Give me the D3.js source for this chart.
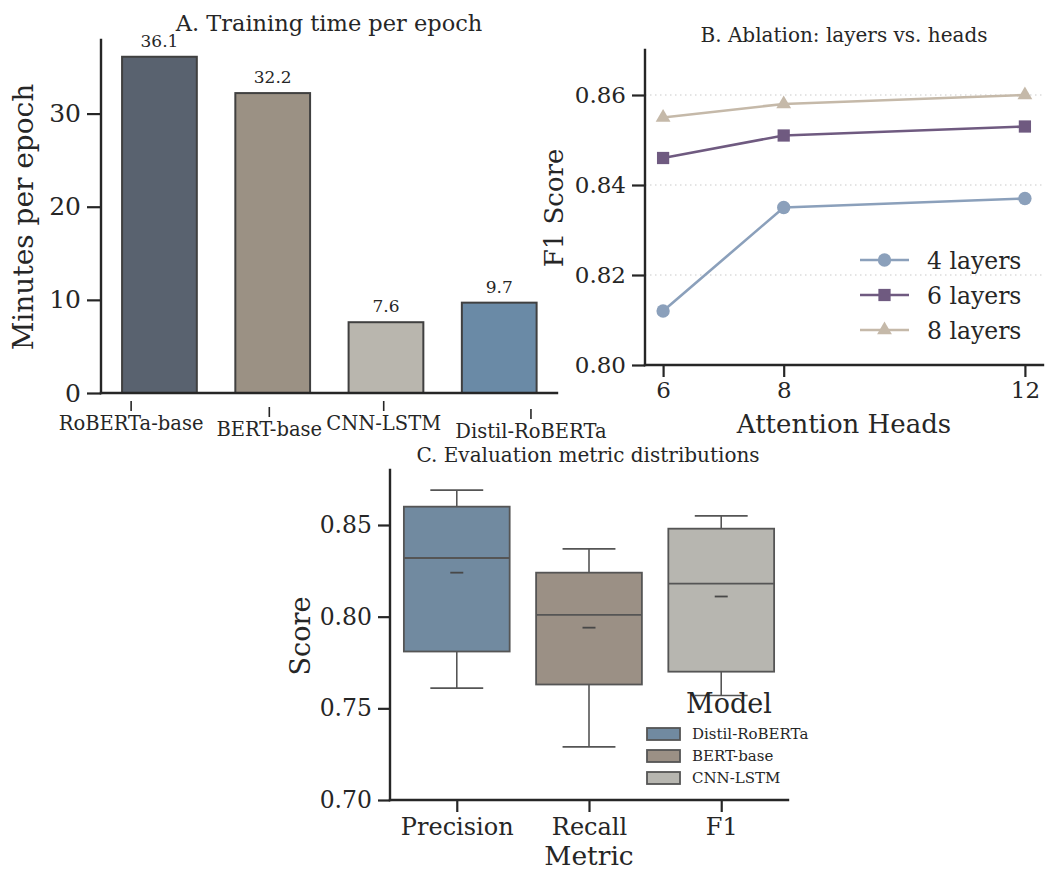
<!DOCTYPE html>
<html><head><meta charset="utf-8">
<script src="https://cdn.jsdelivr.net/npm/d3@7"></script>
<style>
html,body{margin:0;padding:0;background:#fff;}
svg text{font-family:"DejaVu Serif",serif;fill:#262626;}
</style></head>
<body>
<svg id="chart" width="1053" height="872"></svg>
<script>
// ---------- Data ----------
// Panel A
const trainModels = ["RoBERTa-base", "BERT-base", "CNN-LSTM", "Distil-RoBERTa"];
const trainMinutes = [36.1, 32.2, 7.6, 9.7];
const trainColors = ["#59626f", "#9b9184", "#b9b6ae", "#6a8aa6"];
const trainYTicks = [0, 10, 20, 30];
// tick-label anchor positions on the category axis (as drawn in the original, slightly shifted)
const trainTickAt = [-0.25, 0.97, 1.98, 3.28];
const trainTickDrop = [0, 6, 0, 8];

// Panel B
const heads = [6, 8, 12];
const layers4 = [0.812, 0.835, 0.837];
const layers6 = [0.846, 0.851, 0.853];
const layers8 = [0.855, 0.858, 0.860];
const layerNames = ["4 layers", "6 layers", "8 layers"];
const layerColors = ["#8ba0bb", "#6f5a80", "#c5b9a9"];
const ablYTicks = [0.80, 0.82, 0.84, 0.86];

// Panel C
const metrics = ["Precision", "Recall", "F1"];
const boxModels = ["Distil-RoBERTa", "BERT-base", "CNN-LSTM"];
const boxColors = ["#718aa0", "#9b9085", "#b7b6b0"];
const whiskLow = [0.761, 0.729, 0.757];
const q1 = [0.781, 0.763, 0.770];
const median = [0.832, 0.801, 0.818];
const q3 = [0.860, 0.824, 0.848];
const whiskHigh = [0.869, 0.837, 0.855];
const means = [0.824, 0.794, 0.811];
const evalYTicks = [0.70, 0.75, 0.80, 0.85];

// ---------- Drawing ----------
const svg = d3.select("#chart");
const AX = "#262626";
const AXW = 2.4;

function spineY(g, x, y0, y1) {
  g.append("line").attr("x1", x).attr("x2", x).attr("y1", y0).attr("y2", y1)
    .attr("stroke", AX).attr("stroke-width", AXW).attr("stroke-linecap", "square");
}
function spineX(g, y, x0, x1) {
  g.append("line").attr("x1", x0).attr("x2", x1).attr("y1", y).attr("y2", y)
    .attr("stroke", AX).attr("stroke-width", AXW).attr("stroke-linecap", "square");
}
function styleAxis(sel, fontSize) {
  sel.select(".domain").remove();
  sel.selectAll(".tick line").attr("stroke", AX).attr("stroke-width", 2.2);
  sel.selectAll(".tick text").attr("fill", AX).style("font-size", fontSize + "px")
    .style("font-family", "DejaVu Serif");
}

// ===== Panel A =====
(function () {
  const g = svg.append("g");
  const x = d3.scaleLinear().domain([-0.516, 3.51]).range([101, 557]);
  const y = d3.scaleLinear().domain([0, 37.9]).range([393, 40]);
  const bw = 0.66;

  g.selectAll("rect.bar").data(trainMinutes).enter().append("rect")
    .attr("x", (d, i) => x(i - bw / 2))
    .attr("width", x(bw) - x(0))
    .attr("y", d => y(d))
    .attr("height", d => y(0) - y(d))
    .attr("fill", (d, i) => trainColors[i])
    .attr("stroke", "#404040").attr("stroke-width", 2);

  g.selectAll("text.val").data(trainMinutes).enter().append("text")
    .attr("x", (d, i) => x(i)).attr("y", d => y(d) - 10)
    .attr("text-anchor", "middle").style("font-size", "17px")
    .text(d => d.toFixed(1));

  const ya = g.append("g").attr("transform", "translate(101,0)")
    .call(d3.axisLeft(y).tickValues(trainYTicks).tickSize(14).tickPadding(6).tickFormat(d3.format("d")));
  styleAxis(ya, 25);

  // category ticks + labels
  trainModels.forEach((m, i) => {
    const tx = x(trainTickAt[i]);
    const dy = trainTickDrop[i];
    g.append("line").attr("x1", tx).attr("x2", tx).attr("y1", 401 + dy).attr("y2", 411 + dy)
      .attr("stroke", AX).attr("stroke-width", 1.6);
    g.append("text").attr("x", tx).attr("y", 430 + dy).attr("text-anchor", "middle")
      .style("font-size", "19.5px").text(m);
  });

  spineY(g, 101, 40, 393);
  spineX(g, 393, 101, 557);

  g.append("text").attr("x", 329).attr("y", 31).attr("text-anchor", "middle")
    .style("font-size", "22.5px").text("A. Training time per epoch");
  g.append("text").attr("transform", "translate(33,217) rotate(-90)")
    .attr("text-anchor", "middle").style("font-size", "28px").text("Minutes per epoch");
})();

// ===== Panel B =====
(function () {
  const g = svg.append("g");
  const x = d3.scaleLinear().domain([5.7, 12.3]).range([645, 1043]);
  const y = d3.scaleLinear().domain([0.80, 0.87]).range([365, 50]);

  // dotted grid
  g.selectAll("line.grid").data(ablYTicks.slice(1)).enter().append("line")
    .attr("x1", 645).attr("x2", 1043).attr("y1", d => y(d)).attr("y2", d => y(d))
    .attr("stroke", "#dcdcdc").attr("stroke-width", 1.3).attr("stroke-dasharray", "1.5,3.5");

  const series = [layers4, layers6, layers8];
  const line = d3.line().x((d, i) => x(heads[i])).y(d => y(d));
  const symbols = [d3.symbolCircle, d3.symbolSquare, d3.symbolTriangle];
  const symSizes = [140, 150, 95];

  series.forEach((s, k) => {
    g.append("path").datum(s).attr("d", line).attr("fill", "none")
      .attr("stroke", layerColors[k]).attr("stroke-width", 2.6);
    g.selectAll("path.m" + k).data(s).enter().append("path")
      .attr("transform", (d, i) => `translate(${x(heads[i])},${y(d)})`)
      .attr("d", d3.symbol().type(symbols[k]).size(symSizes[k]))
      .attr("fill", layerColors[k]);
  });

  const ya = g.append("g").attr("transform", "translate(645,0)")
    .call(d3.axisLeft(y).tickValues(ablYTicks).tickSize(13).tickPadding(6).tickFormat(d3.format(".2f")));
  styleAxis(ya, 23);
  const xa = g.append("g").attr("transform", "translate(0,365)")
    .call(d3.axisBottom(x).tickValues(heads).tickSize(12).tickPadding(5).tickFormat(d3.format("d")));
  styleAxis(xa, 23);

  spineY(g, 645, 50, 365);
  spineX(g, 365, 645, 1043);

  // legend
  layerNames.forEach((n, k) => {
    const ly = 260 + k * 35;
    g.append("line").attr("x1", 860).attr("x2", 909).attr("y1", ly).attr("y2", ly)
      .attr("stroke", layerColors[k]).attr("stroke-width", 2.6);
    g.append("path").attr("transform", `translate(884.5,${ly})`)
      .attr("d", d3.symbol().type(symbols[k]).size(symSizes[k])).attr("fill", layerColors[k]);
    g.append("text").attr("x", 927).attr("y", ly + 8.5).style("font-size", "23.5px").text(n);
  });

  g.append("text").attr("x", 844).attr("y", 42).attr("text-anchor", "middle")
    .style("font-size", "20px").text("B. Ablation: layers vs. heads");
  g.append("text").attr("x", 844).attr("y", 433).attr("text-anchor", "middle")
    .style("font-size", "26px").text("Attention Heads");
  g.append("text").attr("transform", "translate(563,208) rotate(-90)")
    .attr("text-anchor", "middle").style("font-size", "26px").text("F1 Score");
})();

// ===== Panel C =====
(function () {
  const g = svg.append("g");
  const x = d3.scaleLinear().domain([-0.505, 2.505]).range([390, 788]);
  const y = d3.scaleLinear().domain([0.70, 0.88]).range([800, 470]);
  const bw = 0.8;
  const EDGE = "#555555";

  metrics.forEach((m, i) => {
    const cx = x(i);
    const half = (x(bw / 2) - x(0));
    // whiskers
    g.append("line").attr("x1", cx).attr("x2", cx).attr("y1", y(whiskHigh[i])).attr("y2", y(q3[i]))
      .attr("stroke", EDGE).attr("stroke-width", 1.6);
    g.append("line").attr("x1", cx).attr("x2", cx).attr("y1", y(q1[i])).attr("y2", y(whiskLow[i]))
      .attr("stroke", EDGE).attr("stroke-width", 1.6);
    g.append("line").attr("x1", cx - half / 2).attr("x2", cx + half / 2)
      .attr("y1", y(whiskHigh[i])).attr("y2", y(whiskHigh[i])).attr("stroke", EDGE).attr("stroke-width", 1.6);
    g.append("line").attr("x1", cx - half / 2).attr("x2", cx + half / 2)
      .attr("y1", y(whiskLow[i])).attr("y2", y(whiskLow[i])).attr("stroke", EDGE).attr("stroke-width", 1.6);
    // box
    g.append("rect").attr("x", cx - half).attr("width", 2 * half)
      .attr("y", y(q3[i])).attr("height", y(q1[i]) - y(q3[i]))
      .attr("fill", boxColors[i]).attr("stroke", EDGE).attr("stroke-width", 1.8);
    // median
    g.append("line").attr("x1", cx - half).attr("x2", cx + half)
      .attr("y1", y(median[i])).attr("y2", y(median[i])).attr("stroke", EDGE).attr("stroke-width", 1.8);
    // mean marker
    g.append("line").attr("x1", cx - 6.5).attr("x2", cx + 6.5)
      .attr("y1", y(means[i])).attr("y2", y(means[i])).attr("stroke", "#484848").attr("stroke-width", 1.8);
  });

  const ya = g.append("g").attr("transform", "translate(390,0)")
    .call(d3.axisLeft(y).tickValues(evalYTicks).tickSize(12).tickPadding(6).tickFormat(d3.format(".2f")));
  styleAxis(ya, 23.5);
  const xa = g.append("g").attr("transform", "translate(0,800)")
    .call(d3.axisBottom(x).tickValues([0, 1, 2]).tickSize(12).tickPadding(6).tickFormat(i => metrics[i]));
  styleAxis(xa, 24);

  spineY(g, 390, 470, 800);
  spineX(g, 800, 390, 788);

  // legend
  g.append("text").attr("x", 729).attr("y", 713).attr("text-anchor", "middle")
    .style("font-size", "27px").text("Model");
  boxModels.forEach((n, k) => {
    const ly = 734 + k * 22;
    g.append("rect").attr("x", 647).attr("y", ly - 6).attr("width", 33).attr("height", 12)
      .attr("fill", boxColors[k]).attr("stroke", "#555").attr("stroke-width", 1.8);
    g.append("text").attr("x", 692).attr("y", ly + 5).style("font-size", "15px").text(n);
  });

  g.append("text").attr("x", 588).attr("y", 462).attr("text-anchor", "middle")
    .style("font-size", "20px").text("C. Evaluation metric distributions");
  g.append("text").attr("x", 589).attr("y", 865).attr("text-anchor", "middle")
    .style("font-size", "26.5px").text("Metric");
  g.append("text").attr("transform", "translate(310,636) rotate(-90)")
    .attr("text-anchor", "middle").style("font-size", "27px").text("Score");
})();
</script>
</body></html>
